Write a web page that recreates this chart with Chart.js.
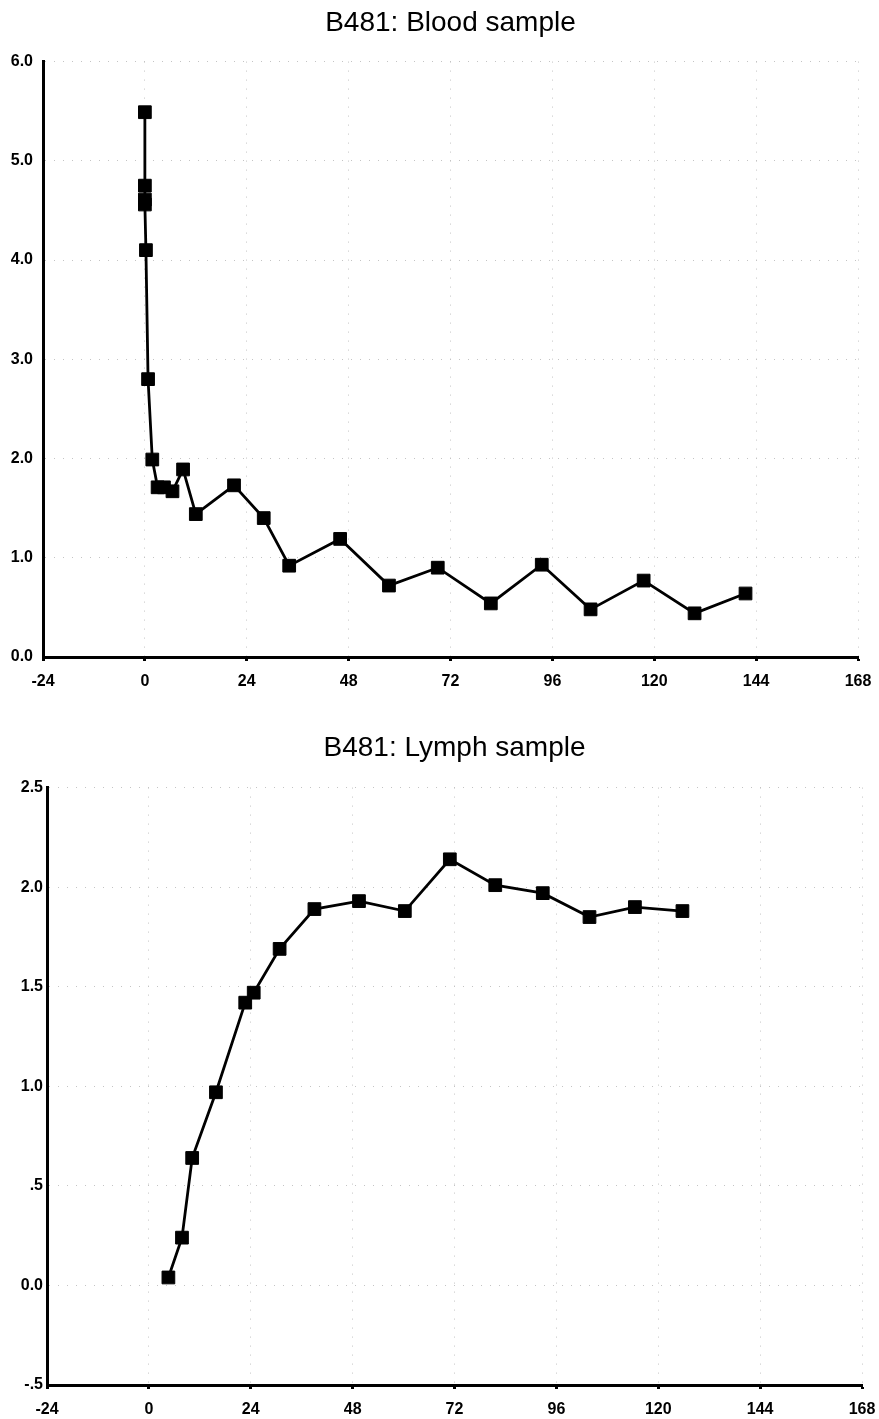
<!DOCTYPE html>
<html>
<head>
<meta charset="utf-8">
<script src="https://cdn.jsdelivr.net/npm/chart.js@4"></script>
<style>
  body { margin: 0; background: #fff; }
  canvas { display: block; }
</style>
</head>
<body>
<canvas id="bloodChart" width="879" height="715"></canvas>
<canvas id="lymphChart" width="879" height="704"></canvas>
<script>
// hours after dose
const bloodHours = [0, 0, 0, 0, 0.25, 0.75, 1.75, 3, 4.5, 6.5, 9, 12, 21, 28, 34, 46, 57.5, 69, 81.5, 93.5, 105, 117.5, 129.5, 141.5];
const bloodValues = [5.49, 4.75, 4.61, 4.56, 4.1, 2.8, 1.99, 1.71, 1.71, 1.67, 1.89, 1.44, 1.73, 1.4, 0.92, 1.19, 0.72, 0.9, 0.54, 0.93, 0.48, 0.77, 0.44, 0.64];

const lymphHours = [4.6, 7.8, 10.2, 15.8, 22.7, 24.7, 30.8, 39, 49.5, 60.3, 70.9, 81.6, 92.8, 103.8, 114.5, 125.7];
const lymphValues = [0.04, 0.24, 0.64, 0.97, 1.42, 1.47, 1.69, 1.89, 1.93, 1.88, 2.14, 2.01, 1.97, 1.85, 1.9, 1.88];

const xTickLabels = ["-24", "0", "24", "48", "72", "96", "120", "144", "168"];
const bloodYLabels = ["0.0", "1.0", "2.0", "3.0", "4.0", "5.0", "6.0"];
const lymphYLabels = ["-.5", "0.0", ".5", "1.0", "1.5", "2.0", "2.5"];

const FONT = "'Liberation Sans', Arial, Helvetica, sans-serif";

function toPoints(xs, ys) {
  return xs.map((x, i) => ({ x: x, y: ys[i] }));
}

function plot(canvasname, title, hours, values, yLabels, yMin, yMax, yStep, opts) {
  const data = {
    datasets: [
      {
        label: title,
        data: toPoints(hours, values),
        showLine: true,
        borderColor: "#000",
        borderWidth: 2.8,
        pointStyle: "rect",
        pointRadius: 9,
        pointBackgroundColor: "#000",
        pointBorderColor: "#000",
        pointBorderWidth: 1,
        fill: false,
      },
    ],
  };

  const config = {
    type: "scatter",
    data: data,
    options: {
      responsive: false,
      animation: false,
      layout: { padding: { left: 0, right: opts.padRight, top: 0, bottom: 0 } },
      plugins: {
        legend: { display: false },
        tooltip: { enabled: false },
        title: {
          display: true,
          fullSize: false,
          text: title,
          color: "#000",
          font: { family: FONT, size: 28, weight: "normal" },
          padding: { top: opts.titleTop, bottom: opts.titleBottom },
        },
      },
      scales: {
        x: {
          type: "linear",
          min: -24,
          max: 168,
          afterFit: (s) => {
            s.height = opts.xHeight;
            s.paddingLeft = 0;
            s.paddingRight = 0;
          },
          ticks: {
            stepSize: 24,
            padding: 11,
            color: "#000",
            font: { family: FONT, size: 16, weight: "bold" },
            callback: (v, i) => xTickLabels[i],
          },
          grid: {
            color: "#c4c4c4",
            lineWidth: 1,
            tickColor: "#000",
            tickWidth: 3,
            tickLength: 4,
            tickBorderDash: [],
          },
          border: { display: true, color: "#000", width: 3, dash: [1, 8] },
        },
        y: {
          min: yMin,
          max: yMax,
          afterFit: (s) => { s.width = opts.yWidth; },
          ticks: {
            stepSize: yStep,
            padding: opts.yPad,
            color: "#000",
            font: { family: FONT, size: 16, weight: "bold" },
            callback: (v, i) => yLabels[i],
          },
          grid: {
            color: "#c4c4c4",
            lineWidth: 1,
            drawTicks: false,
          },
          border: { display: true, color: "#000", width: 3, dash: [1, 8] },
        },
      },
    },
  };
  const ctx = document.getElementById(canvasname);
  return new Chart(ctx, config);
}

plot("bloodChart", "B481: Blood sample", bloodHours, bloodValues, bloodYLabels, 0, 6, 1, {
  titleTop: 6, titleBottom: 22, xHeight: 58, yWidth: 43, yPad: 10, padRight: 21,
});
plot("lymphChart", "B481: Lymph sample", lymphHours, lymphValues, lymphYLabels, -0.5, 2.5, 0.5, {
  titleTop: 16, titleBottom: 23, xHeight: 34, yWidth: 47, yPad: 4, padRight: 17,
});
</script>
</body>
</html>
